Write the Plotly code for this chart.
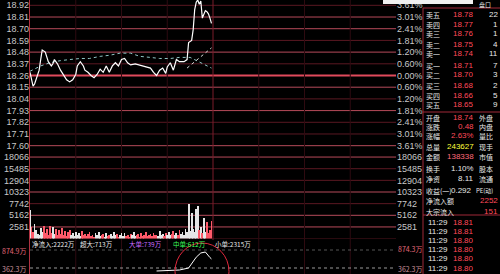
import plotly.graph_objects as go
import numpy as np

W, H = 500, 274
PREV_CLOSE = 18.26

# ---------------- data ----------------
price_min = [0, 1, 2, 3, 5, 6, 7, 8, 10, 11, 12, 14, 15, 16, 18, 20, 22, 24, 26, 28,
             30, 31, 33, 35, 36, 38, 40, 42, 44, 46, 48, 50, 52, 54, 56, 58, 60, 62, 64, 66,
             69, 72, 75, 79, 81, 83, 85, 87, 89, 90, 92, 94, 96, 98, 101, 103, 104, 105, 106, 107,
             108, 109, 110, 111, 112, 113, 114, 115, 116, 117, 118, 119]
price_val = [18.29, 18.22, 18.16, 18.18, 18.26, 18.31, 18.41, 18.50, 18.48, 18.44, 18.39, 18.35, 18.37, 18.41, 18.37, 18.31, 18.26, 18.22, 18.20, 18.22,
             18.27, 18.35, 18.39, 18.35, 18.31, 18.29, 18.26, 18.24, 18.27, 18.32, 18.29, 18.35, 18.29, 18.35, 18.38, 18.35, 18.41, 18.42, 18.38, 18.36,
             18.37, 18.36, 18.35, 18.33, 18.29, 18.26, 18.31, 18.33, 18.28, 18.34, 18.38, 18.31, 18.41, 18.39, 18.39, 18.41, 18.57, 18.58, 18.59, 18.69,
             18.88, 18.95, 18.97, 18.93, 18.96, 18.80, 18.84, 18.87, 18.86, 18.84, 18.80, 18.75]

avg_min = [0, 7, 13, 20, 26, 33, 39, 46, 52, 59, 66, 72, 79, 85, 92, 98, 105, 111, 119]
avg_val = [18.30, 18.35, 18.38, 18.40, 18.41, 18.42, 18.42, 18.44, 18.45, 18.47, 18.47, 18.44, 18.43, 18.42, 18.42, 18.43, 18.43, 18.39, 18.33]

ma_min = [103, 108, 113, 117, 119]
ma_val = [18.33, 18.39, 18.45, 18.50, 18.52]

vol = [6300, 2600, 1400, 3200, 1800, 1100, 900, 2400, 1500, 2900, 1200,
       2200, 800, 2700, 1300, 2500, 1000, 2100, 700, 1900, 1100,
       2300, 900, 1600, 600, 1400, 1800, 700, 1200, 500, 1500,
       900, 1300, 600, 1700, 800, 1100, 500, 1000, 1400, 600,
       900, 400, 1200, 700, 1500, 500, 800, 1000, 400, 1300,
       600, 900, 1100, 500, 1400, 700, 1000, 400, 800, 1200,
       500, 1300, 600, 900, 400, 1100, 700, 1500, 500, 800,
       1000, 400, 1200, 600, 900, 1400, 500, 800, 1100, 600,
       1300, 700, 900, 500, 1600, 800, 1000, 600, 1200, 700,
       1500, 800, 1100, 1700, 900, 1300, 700, 1900, 1000, 1400,
       800, 2200, 1500, 7700, 1600, 5700, 2200, 1400, 6600, 7300,
       1800, 2500, 1200, 4600, 1500, 3700, 1300, 2000, 4000]
vol_min = list(range(len(vol)))

flow_min = [83, 90, 98, 104, 109, 112, 115, 118, 119]
flow_val = [277, 290, 305, 362, 670, 790, 818, 660, 620]

price_ticks = [18.92, 18.81, 18.70, 18.59, 18.48, 18.37, 18.26, 18.15, 18.04, 17.93, 17.82, 17.71, 17.60]
pct_ticks = ["3.61%", "3.01%", "2.41%", "1.81%", "1.20%", "0.60%", "0.00%",
             "0.60%", "1.20%", "1.81%", "2.41%", "3.01%", "3.61%"]
vol_ticks = [2581, 5162, 7742, 10323, 12904, 15485, 18066]
bright_price = [18.81, 18.70, 18.48, 18.15, 17.93, 17.60]
bright_vol = [18066, 10323, 5162, 2581]

sell_labels = ["卖五", "卖四", "卖三", "卖二", "卖一"]
sell_prices = ["18.78", "18.77", "18.76", "18.75", "18.74"]
sell_vols = ["22", "1", "1", "4", "11"]
buy_labels = ["买一", "买二", "买三", "买四", "买五"]
buy_prices = ["18.71", "18.70", "18.68", "18.66", "18.65"]
buy_vols = ["7", "3", "2", "5", "9"]

tick_times = ["11:29", "11:29", "11:29", "11:29", "11:29", "11:29"]
tick_prices = ["18.81", "18.81", "18.80", "18.80", "18.80", "18.80"]

# ---------------- geometry helpers ----------------
X0, X1 = 30 / W, 396 / W
def py(y):
    return 1 - y / H

STEP = 11.65
P_TOP = PREV_CLOSE + 75.5 / STEP * 0.10956
P_BOT = PREV_CLOSE - 75.5 / STEP * 0.10956
V_TOP = (238.6 - 151) / STEP * 2580.75
F_LO, F_HI = 191.4, 1045.8

FONT = "Liberation Sans, Arial, sans-serif"
CJK = "Noto Sans CJK SC, sans-serif"
TICKC = "#c8c8c8"

fig = go.Figure()

fig.add_trace(go.Scatter(x=avg_min, y=avg_val, mode="lines", yaxis="y",
                         line=dict(color="#8fc4c4", width=1, dash="dot"), hoverinfo="skip"))
fig.add_trace(go.Scatter(x=ma_min, y=ma_val, mode="lines", yaxis="y",
                         line=dict(color="#d8d8d8", width=1, dash="dot"), hoverinfo="skip"))
fig.add_trace(go.Scatter(x=price_min, y=price_val, mode="lines", yaxis="y",
                         line=dict(color="#ffffff", width=1.2), hoverinfo="skip"))
fig.add_trace(go.Scatter(x=price_min, y=price_val, mode="lines", yaxis="y2",
                         line=dict(color="rgba(0,0,0,0)", width=0), hoverinfo="skip"))

p_at = np.interp(vol_min, price_min, price_val)
colors = []
for i in range(len(vol)):
    up = i == 0 or p_at[i] >= p_at[i - 1]
    colors.append("#e6e6e6" if up else "#ff5a6a")
fig.add_trace(go.Bar(x=vol_min, y=vol, yaxis="y3", marker=dict(color=colors, line=dict(width=0)),
                     width=0.55, hoverinfo="skip"))
fig.add_trace(go.Scatter(x=vol_min, y=vol, mode="lines", yaxis="y4",
                         line=dict(color="rgba(0,0,0,0)", width=0), hoverinfo="skip"))

fig.add_trace(go.Scatter(x=flow_min, y=flow_val, mode="lines", yaxis="y5",
                         line=dict(color="#ffffff", width=1), hoverinfo="skip"))

shapes = []
for p in price_ticks:
    if abs(p - PREV_CLOSE) < 1e-6:
        c, w = "#e04a5c", 2
    elif p in bright_price:
        c, w = "#b64a5a", 1
    else:
        c, w = "#5a1822", 1
    shapes.append(dict(type="line", xref="paper", x0=X0, x1=X1, yref="y", y0=p, y1=p,
                       line=dict(color=c, width=w), layer="below"))
for v in vol_ticks + [0]:
    c = "#b64a5a" if v in bright_vol else "#5a1822"
    shapes.append(dict(type="line", xref="paper", x0=X0, x1=X1, yref="y3", y0=v, y1=v,
                       line=dict(color=c, width=1), layer="below"))
for m in [30, 60, 90, 150, 180, 210]:
    shapes.append(dict(type="line", xref="x", x0=m, x1=m, yref="paper", y0=py(274), y1=1,
                       line=dict(color="#2e0a10", width=1), layer="below"))
shapes.append(dict(type="line", xref="x", x0=120, x1=120, yref="paper", y0=py(240), y1=1,
                   line=dict(color="#7a1c2a", width=1), layer="below"))
shapes.append(dict(type="line", xref="paper", x0=X0 - 0.001, x1=X0 - 0.001, yref="paper", y0=0, y1=1,
                   line=dict(color="#b03242", width=1)))
shapes.append(dict(type="line", xref="paper", x0=X0, x1=X1, yref="y5", y0=874.9, y1=874.9,
                   line=dict(color="#555555", width=1, dash="dot"), layer="below"))
shapes.append(dict(type="line", xref="paper", x0=X0, x1=X1, yref="y5", y0=362.3, y1=362.3,
                   line=dict(color="#9a9a9a", width=1, dash="dot"), layer="below"))
shapes.append(dict(type="circle", xref="paper", yref="paper", x0=175 / W, x1=229 / W,
                   y0=py(300), y1=py(243), line=dict(color="#e0283c", width=1)))
shapes.append(dict(type="line", xref="paper", x0=423 / W, x1=423 / W, yref="paper", y0=0, y1=py(8),
                   line=dict(color="#a02838", width=1)))
for yy in [8, 112, 215]:
    shapes.append(dict(type="line", xref="paper", x0=423 / W, x1=1, yref="paper", y0=py(yy), y1=py(yy),
                       line=dict(color="#a02838", width=1)))
shapes.append(dict(type="rect", xref="paper", yref="paper", x0=383 / W, x1=473 / W, y0=py(4), y1=1,
                   fillcolor="#f0f0f0", line=dict(width=0)))

ann = []
def txt(x, y, s, color, size=7, anchor="left", family=CJK, yanchor="middle", height=9):
    ann.append(dict(x=x / W, y=py(y), xref="paper", yref="paper", text=s, showarrow=False,
                    xanchor=anchor, yanchor=yanchor, font=dict(size=size, color=color, family=family),
                    borderpad=0, height=height))

RED = "#ff4a5a"
WHITE = "#e8e8e8"
for i in range(5):
    yy = 14 + 10 * i
    txt(425, yy, sell_labels[i], WHITE)
    txt(475, yy, sell_prices[i], RED, size=8, anchor="right", family=FONT)
    txt(499, yy, sell_vols[i], WHITE, size=8, anchor="right", family=FONT)
for i in range(5):
    yy = 65 + 10 * i
    txt(425, yy, buy_labels[i], WHITE)
    txt(475, yy, buy_prices[i], RED, size=8, anchor="right", family=FONT)
    txt(499, yy, buy_vols[i], WHITE, size=8, anchor="right", family=FONT)

stats = [
    (117, "开盘", "18.74", RED, "外盘"),
    (126, "涨跌", "0.48", RED, "内盘"),
    (135, "涨幅", "2.63%", RED, "量比"),
    (146, "总量", "243627", "#ffff3c", "现手"),
    (156, "金额", "138338", "#ff6a7a", "市值"),
    (168, "换手", "1.10%", WHITE, "股本"),
    (178, "净资", "8.11", WHITE, "流通"),
]
for yy, lab, val, col, lab2 in stats:
    txt(425, yy, lab, WHITE)
    txt(475, yy, val, col, size=8, anchor="right", family=FONT)
    txt(478, yy, lab2, WHITE)
txt(425, 190, "收益(一)", WHITE)
txt(473, 190, "0.292", WHITE, size=8, anchor="right", family=FONT)
txt(475, 190, "PE(动)", WHITE, size=6)
txt(425, 200, "净流入额", WHITE)
txt(499, 200, "2252", RED, size=8, anchor="right", family=FONT)
txt(425, 211, "大宗流入", WHITE)
txt(499, 211, "151", RED, size=8, anchor="right", family=FONT)

for i in range(6):
    yy = 222 + 9.2 * i
    txt(427, yy, tick_times[i], WHITE, size=8, family=FONT)
    txt(475, yy, tick_prices[i], RED, size=8, anchor="right", family=FONT)

txt(478, 0, "盘口", WHITE, size=6, yanchor="top", height=7)

txt(31, 243, "净流入:2222万", WHITE, size=6.5)
txt(79, 243, "超大:713万", WHITE, size=6.5)
txt(128, 243, "大单:739万", "#cc6cff", size=6.5)
txt(172, 243, "中单:612万", "#3cff5a", size=6.5)
txt(214, 243, "小单:2315万", WHITE, size=6.5)
txt(28, 250, "874.9万", "#e06878", anchor="right")
txt(28, 268, "362.3万", "#c89098", anchor="right")
txt(397, 249, "874.3万", "#e06878")
txt(397, 268, "362.3万", "#c89098")

tickfont = dict(size=9, color=TICKC, family=FONT)
fig.update_layout(
    width=W, height=H, margin=dict(l=0, r=0, t=0, b=0),
    paper_bgcolor="#000000", plot_bgcolor="#000000", showlegend=False, bargap=0,
    xaxis=dict(domain=[X0, X1], range=[0, 240], showgrid=False, zeroline=False,
               showticklabels=False, showline=False, fixedrange=True),
    yaxis=dict(domain=[py(151), 1], range=[P_BOT, P_TOP], tickvals=price_ticks,
               ticktext=["%.2f" % v for v in price_ticks], tickfont=tickfont,
               showgrid=False, zeroline=False, ticks="", anchor="x"),
    yaxis2=dict(overlaying="y", side="right", range=[P_BOT, P_TOP], tickvals=price_ticks,
                ticktext=pct_ticks, tickfont=tickfont, showgrid=False, zeroline=False, ticks="", anchor="x"),
    yaxis3=dict(domain=[py(238.6), py(151)], range=[0, V_TOP], tickvals=vol_ticks,
                ticktext=[str(v) for v in vol_ticks], tickfont=tickfont,
                showgrid=False, zeroline=False, ticks="", anchor="x"),
    yaxis4=dict(overlaying="y3", side="right", range=[0, V_TOP], tickvals=vol_ticks,
                ticktext=[str(v) for v in vol_ticks], tickfont=tickfont,
                showgrid=False, zeroline=False, ticks="", anchor="x"),
    yaxis5=dict(domain=[0, py(244)], range=[F_LO, F_HI], showticklabels=False,
                showgrid=False, zeroline=False, anchor="x"),
    shapes=shapes, annotations=ann,
)

fig.write_html("out.html")
